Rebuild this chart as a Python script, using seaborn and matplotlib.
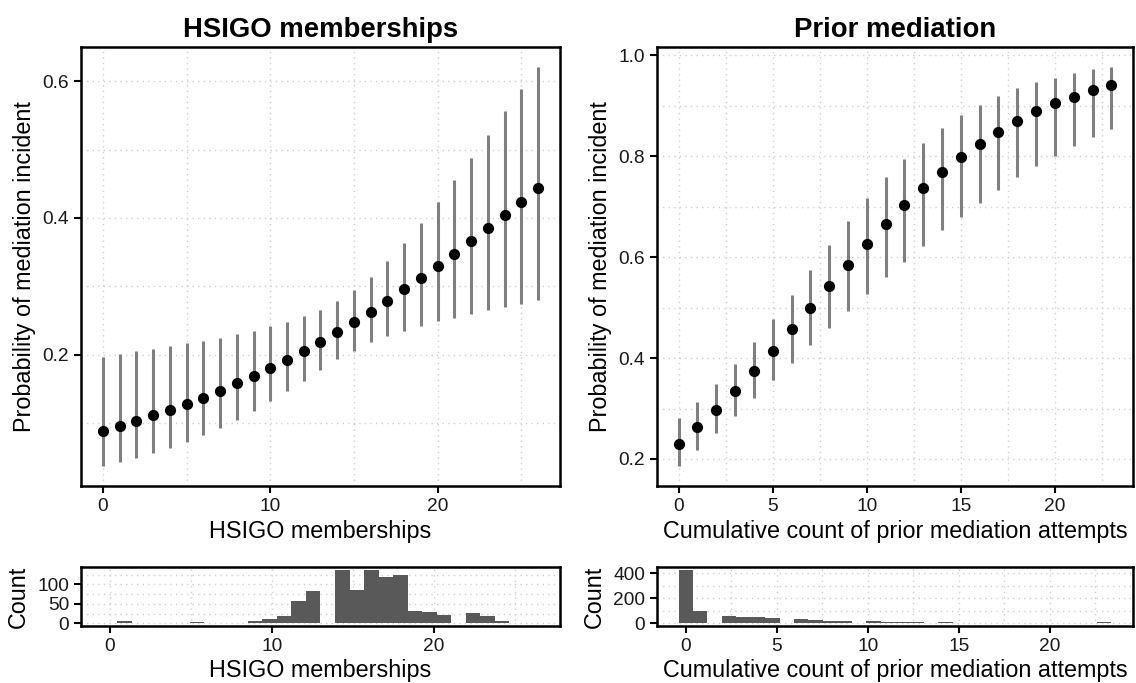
import numpy as np
import pandas as pd
import matplotlib.pyplot as plt
import seaborn as sns
from matplotlib.ticker import MultipleLocator

# predicted probabilities with 95% intervals, HSIGO memberships 0..26
hsigo_x = list(range(27))
hsigo_est = [0.089, 0.096, 0.103, 0.111, 0.119, 0.128, 0.137, 0.147, 0.158, 0.169,
             0.180, 0.192, 0.205, 0.219, 0.233, 0.248, 0.263, 0.279, 0.296, 0.312,
             0.330, 0.348, 0.366, 0.385, 0.404, 0.424, 0.444]
hsigo_lo = [0.037, 0.043, 0.049, 0.056, 0.063, 0.072, 0.082, 0.093, 0.105, 0.118,
            0.132, 0.147, 0.162, 0.178, 0.193, 0.206, 0.218, 0.227, 0.235, 0.242,
            0.249, 0.254, 0.260, 0.265, 0.270, 0.274, 0.280]
hsigo_hi = [0.197, 0.201, 0.205, 0.209, 0.213, 0.217, 0.220, 0.225, 0.230, 0.235,
            0.242, 0.248, 0.256, 0.266, 0.279, 0.294, 0.314, 0.337, 0.363, 0.393,
            0.423, 0.455, 0.488, 0.521, 0.556, 0.589, 0.621]

# prior mediation attempts 0..23
prior_x = list(range(24))
prior_est = [0.230, 0.263, 0.298, 0.334, 0.374, 0.415, 0.458, 0.500, 0.543, 0.585,
             0.626, 0.666, 0.703, 0.738, 0.769, 0.799, 0.825, 0.849, 0.869, 0.889,
             0.905, 0.918, 0.931, 0.941]
prior_lo = [0.186, 0.218, 0.251, 0.285, 0.321, 0.356, 0.391, 0.425, 0.460, 0.494,
            0.527, 0.560, 0.591, 0.623, 0.653, 0.680, 0.708, 0.734, 0.758, 0.780,
            0.801, 0.821, 0.838, 0.855]
prior_hi = [0.282, 0.313, 0.349, 0.388, 0.431, 0.478, 0.526, 0.575, 0.624, 0.672,
            0.717, 0.758, 0.794, 0.827, 0.856, 0.881, 0.902, 0.919, 0.935, 0.947,
            0.956, 0.965, 0.972, 0.977]

# histogram counts (30 bins each)
hsigo_counts = [2, 7, 1, 1, 1, 1, 3, 1, 1, 2, 6, 11, 19, 57, 82, 1, 138, 87, 138, 118,
                125, 31, 29, 21, 2, 27, 19, 7, 2, 2]
prior_counts = [430, 100, 5, 60, 52, 50, 45, 5, 37, 28, 22, 22, 5, 15, 10, 10, 10, 5, 8, 3,
                3, 3, 3, 3, 3, 3, 3, 3, 3, 8]

sns.set_theme(style='white')
plt.rcParams['font.family'] = ['Liberation Sans', 'DejaVu Sans']
plt.rcParams['text.color'] = 'black'
plt.rcParams['axes.labelcolor'] = 'black'

W, H = 1136, 683
fig = plt.figure(figsize=(W / 100, H / 100), dpi=100)


def box(x0, y0, x1, y1):
    return fig.add_axes([x0 / W, 1 - y1 / H, (x1 - x0) / W, (y1 - y0) / H])


grid_kw = dict(color='#cfcfcf', linestyle=(0, (1, 3)), linewidth=1.0)


def style(ax, xmaj, xmin, ymaj, ymin):
    ax.xaxis.set_major_locator(MultipleLocator(xmaj))
    ax.xaxis.set_minor_locator(MultipleLocator(xmin))
    ax.yaxis.set_major_locator(MultipleLocator(ymaj))
    ax.yaxis.set_minor_locator(MultipleLocator(ymin))
    ax.grid(True, which='both', **grid_kw)
    ax.set_axisbelow(True)
    for s in ax.spines.values():
        s.set_color('black')
        s.set_linewidth(1.8)
    ax.tick_params(which='major', direction='out', length=5, width=1.5, color='black',
                   labelsize=13.8, labelcolor='#1a1a1a', pad=3.5, bottom=True, left=True)
    ax.tick_params(which='minor', length=0)


def effect_panel(ax, x, est, lo, hi, xmaj, xmin, ymaj, ymin):
    df = pd.DataFrame({'x': x, 'est': est, 'lo': lo, 'hi': hi})
    ax.vlines(df['x'], df['lo'], df['hi'], color='#7f7f7f', linewidth=2.2, zorder=2)
    sns.scatterplot(data=df, x='x', y='est', ax=ax, color='black', s=65,
                    edgecolor='black', linewidth=0, zorder=3)
    rng = df['x'].max() - df['x'].min()
    ax.set_xlim(-0.05 * rng, df['x'].max() + 0.05 * rng)
    ylo, yhi = df['lo'].min(), df['hi'].max()
    ax.set_ylim(ylo - 0.05 * (yhi - ylo), yhi + 0.05 * (yhi - ylo))
    style(ax, xmaj, xmin, ymaj, ymin)
    ax.set_ylabel('Probability of mediation incident', fontsize=16.8, labelpad=5)


def hist_panel(ax, xmax, counts, xmaj, xmin, ymaj, ymin, xlabel):
    n = len(counts)
    w = xmax / (n - 1)
    centers = np.arange(n) * w
    lo, hi = -w / 2, xmax + w / 2
    df = pd.DataFrame({'x': centers, 'n': counts})
    sns.histplot(data=df, x='x', weights='n', binwidth=w, binrange=(lo, hi), ax=ax,
                 color='#595959', alpha=1, edgecolor='none', linewidth=0)
    ax.set_xlim(lo - 0.05 * (hi - lo), hi + 0.05 * (hi - lo))
    top = max(counts)
    ax.set_ylim(-0.05 * top, top * 1.05)
    style(ax, xmaj, xmin, ymaj, ymin)
    ax.set_xlabel(xlabel, fontsize=16.8, labelpad=3)
    ax.set_ylabel('Count', fontsize=16.8, labelpad=5)


# left column
ax1 = box(81, 47, 560, 486)
effect_panel(ax1, hsigo_x, hsigo_est, hsigo_lo, hsigo_hi, 10, 5, 0.2, 0.1)
ax1.set_xlabel('HSIGO memberships', fontsize=16.8, labelpad=4)
ax1.set_title('HSIGO memberships', fontsize=19.8, fontweight='bold', pad=7)

ax2 = box(81, 567, 560, 626)
hist_panel(ax2, 26, hsigo_counts, 10, 5, 50, 25, 'HSIGO memberships')

# right column
ax3 = box(657, 47, 1133, 486)
effect_panel(ax3, prior_x, prior_est, prior_lo, prior_hi, 5, 2.5, 0.2, 0.1)
ax3.set_xlabel('Cumulative count of prior mediation attempts', fontsize=16.8, labelpad=4)
ax3.set_title('Prior mediation', fontsize=19.8, fontweight='bold', pad=7)

ax4 = box(657, 567, 1133, 626)
hist_panel(ax4, 23, prior_counts, 5, 2.5, 200, 100,
           'Cumulative count of prior mediation attempts')

fig.savefig('out.png', dpi=100, facecolor='white')
